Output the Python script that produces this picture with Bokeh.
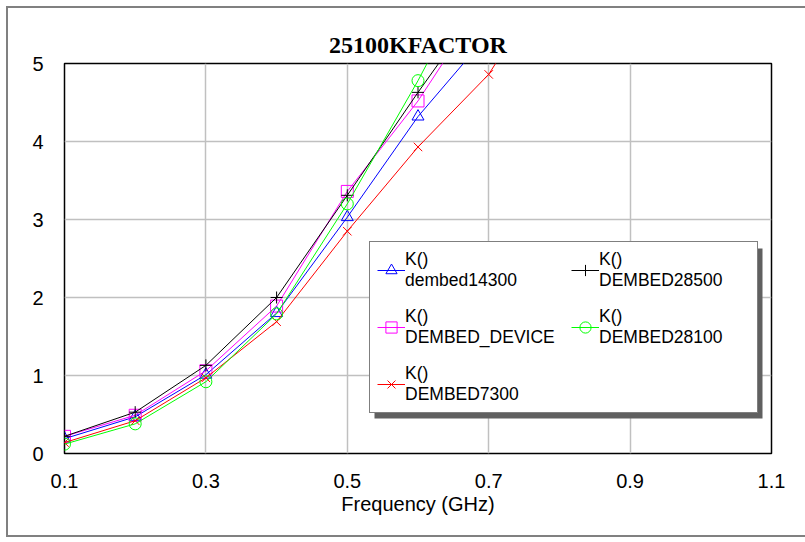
from bokeh.plotting import figure
from bokeh.models import (FixedTicker, Legend, LegendItem, BoxAnnotation, Range1d)
from bokeh.embed import file_html
from bokeh.resources import INLINE

# ---- data ----
freq = [0.1, 0.2, 0.3, 0.4, 0.5, 0.6, 0.7, 0.8]
k_dembed14300 = [0.19, 0.47, 1.01, 1.80, 3.03, 4.32, 5.38]
k_dembed28500 = [0.22, 0.53, 1.13, 2.00, 3.31, 4.63, 5.90]
k_dembed_device = [0.22, 0.49, 1.06, 1.89, 3.36, 4.52, 5.90]
k_dembed28100 = [0.12, 0.38, 0.92, 1.79, 3.20, 4.78, 6.50]
k_dembed7300 = [0.14, 0.42, 0.97, 1.69, 2.85, 3.93, 4.86, 6.30]

# legend order: column 1 top-to-bottom, then column 2
series_names = ["dembed14300", "DEMBED_DEVICE", "DEMBED7300", "DEMBED28500", "DEMBED28100"]
series_values = [k_dembed14300, k_dembed_device, k_dembed7300, k_dembed28500, k_dembed28100]
series_colors = ["#0000FF", "#FF00FF", "#FF0000", "#000000", "#00FF00"]
series_markers = ["triangle", "square", "x", "cross", "circle"]

x_ticks = [0.1, 0.3, 0.5, 0.7, 0.9, 1.1]
y_ticks = [0, 1, 2, 3, 4, 5]

p = figure(width=799, height=531, output_backend="svg", toolbar_location=None,
           x_range=Range1d(0.1, 1.1), y_range=Range1d(0, 5),
           min_border_left=56, min_border_right=36, min_border_top=55, min_border_bottom=86,
           styles={"margin-left": "6px", "margin-top": "6px",
                   "border-top": "2px solid #808080", "border-left": "2px solid #808080",
                   "border-bottom": "2px solid #808080"})
p.background_fill_color = "white"
p.border_fill_color = "white"
p.outline_line_color = "black"
p.outline_line_width = 1.5

p.title.text = "25100KFACTOR"
p.title.text_font = "Liberation Serif"
p.title.text_font_style = "bold"
p.title.text_font_size = "24px"
p.title.text_color = "black"
p.title.align = "center"
p.title.standoff = 11

for ax in (p.xaxis[0], p.yaxis[0]):
    ax.major_tick_line_color = None
    ax.minor_tick_line_color = None
    ax.major_tick_out = 0
    ax.major_tick_in = 0
    ax.minor_tick_out = 0
    ax.axis_line_color = None
    ax.major_label_text_font = "Liberation Sans"
    ax.major_label_text_font_size = "20px"
    ax.major_label_text_color = "black"

p.xaxis[0].ticker = FixedTicker(ticks=x_ticks)
p.yaxis[0].ticker = FixedTicker(ticks=y_ticks)
p.xaxis[0].major_label_standoff = 20
p.yaxis[0].major_label_standoff = 21
p.xaxis[0].axis_label = "Frequency (GHz)"
p.xaxis[0].axis_label_text_font = "Liberation Sans"
p.xaxis[0].axis_label_text_font_size = "20px"
p.xaxis[0].axis_label_text_font_style = "normal"
p.xaxis[0].axis_label_text_color = "black"
p.xaxis[0].axis_label_standoff = 2

p.xgrid.grid_line_color = "#C0C0C0"
p.ygrid.grid_line_color = "#C0C0C0"
p.xgrid.grid_line_width = 1.5
p.ygrid.grid_line_width = 1.5

# shadow behind the legend
shadow = BoxAnnotation(left=364, right=752, top=238, bottom=408,
                       left_units="canvas", right_units="canvas", top_units="canvas", bottom_units="canvas",
                       fill_color="#606060", fill_alpha=1, line_color=None, level="annotation")
p.add_layout(shadow)

items = []
for name, vals, col, mk in zip(series_names, series_values, series_colors, series_markers):
    xs = freq[:len(vals)]
    ln = p.line(xs, vals, line_color=col, line_width=1)
    sc = p.scatter(xs, vals, marker=mk, size=12, line_color=col, fill_color=None, line_width=1)
    items.append(LegendItem(label="K()\n" + name, renderers=[ln, sc]))

legend = Legend(items=items, ncols=2, location=(305, 40))
legend.label_text_font = "Liberation Sans"
legend.label_text_font_size = "17.5px"
legend.label_text_color = "black"
legend.label_width = 151
legend.glyph_width = 28
legend.glyph_height = 30
legend.label_standoff = 0
legend.spacing = 15
legend.padding = 7
legend.border_line_color = "black"
legend.border_line_width = 1
legend.background_fill_color = "white"
legend.background_fill_alpha = 1
p.add_layout(legend, "center")

open("out.html", "w").write(file_html(p, INLINE))
